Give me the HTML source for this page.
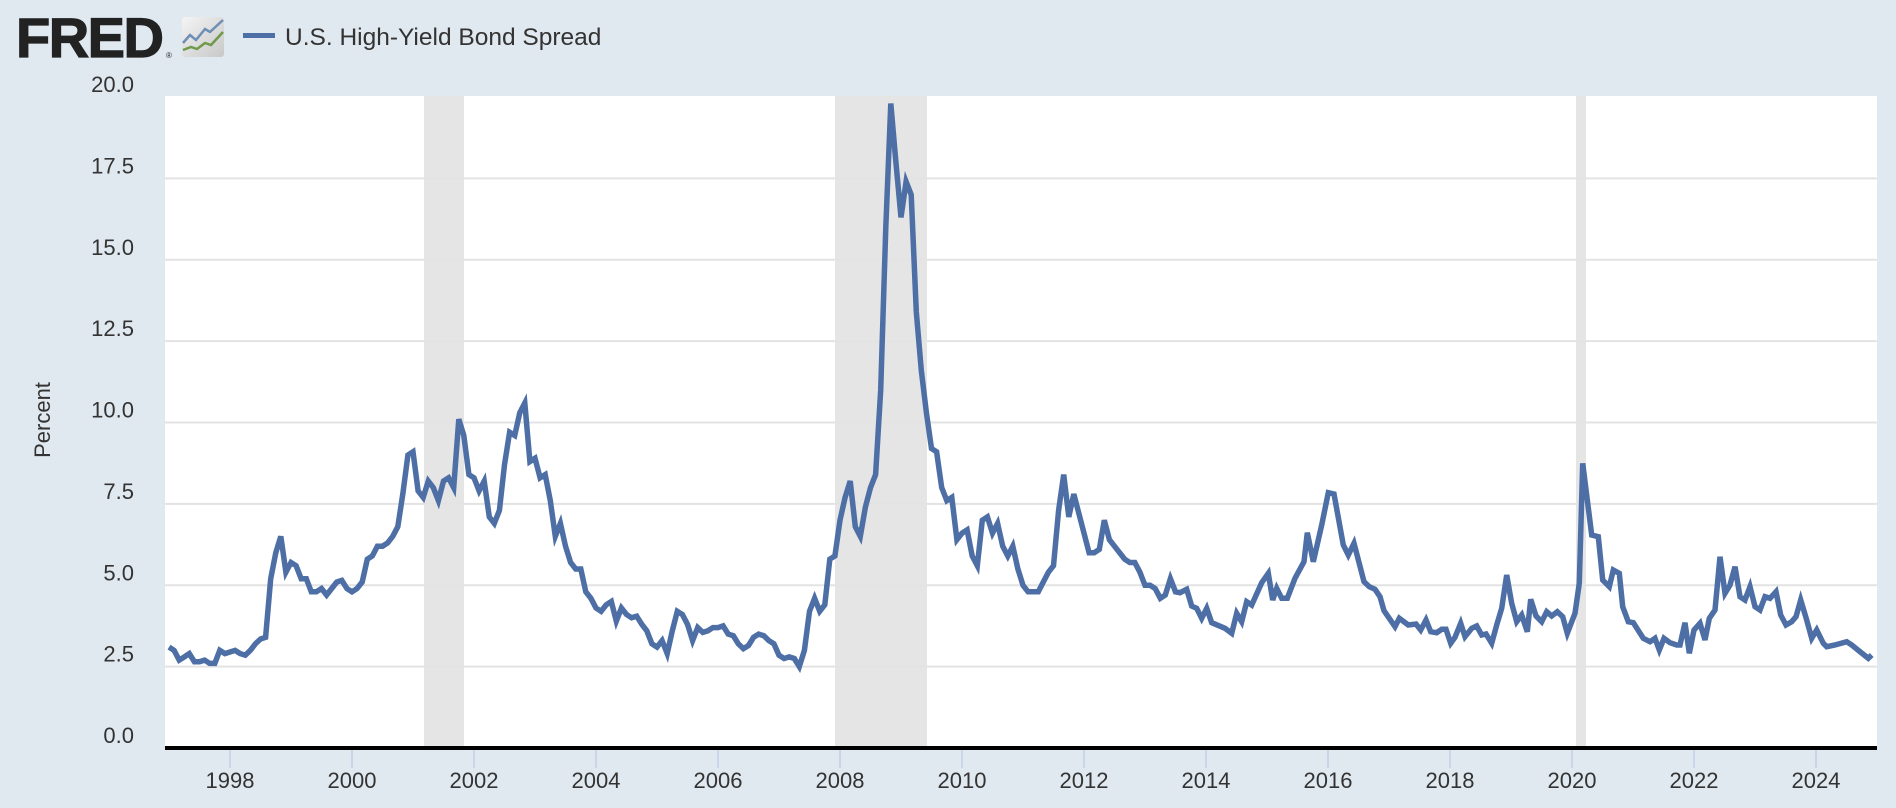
<!DOCTYPE html>
<html><head><meta charset="utf-8"><style>
html,body{margin:0;padding:0;background:#e1e9f0;}
svg{display:block;font-family:"Liberation Sans",sans-serif;}
</style></head><body>
<svg id="s" width="1896" height="808" viewBox="0 0 1896 808" xmlns="http://www.w3.org/2000/svg">
<rect width="1896" height="808" fill="#e1e9f0"/>
<text x="16" y="57" font-size="56" font-weight="bold" fill="#222" letter-spacing="-1.5" stroke="#222" stroke-width="1.2">FRED</text>
<text x="166" y="58" font-size="8" fill="#222">®</text>
<defs><linearGradient id="g" x1="0" y1="0" x2="1" y2="1"><stop offset="0" stop-color="#f4f4f4"/><stop offset="1" stop-color="#c8c8c8"/></linearGradient></defs>
<rect x="182" y="17" width="42" height="40" rx="3" fill="url(#g)"/>
<polyline points="183,43 190,35 196,40 205,29 210,32 223,20" fill="none" stroke="#6d8fb5" stroke-width="2.5"/>
<polyline points="183,50 191,47 197,49 205,43 211,45 223,32" fill="none" stroke="#6f9a4a" stroke-width="2.5"/>
<rect x="243" y="33" width="32" height="5" fill="#4e6fa5"/>
<text x="285" y="45" font-size="24.5" fill="#333">U.S. High-Yield Bond Spread</text>
<rect x="165" y="96" width="1712" height="652" fill="#fff"/>
<rect x="424" y="96" width="40" height="652" fill="#e5e5e5"/>
<rect x="835" y="96" width="92" height="652" fill="#e5e5e5"/>
<rect x="1576" y="96" width="10" height="652" fill="#e5e5e5"/>
<g id="grid" stroke="#e3e3e3" stroke-width="2"></g>
<g id="yl" font-size="22" fill="#333" text-anchor="end"></g>
<text transform="translate(50,420) rotate(-90)" font-size="22" fill="#333" text-anchor="middle">Percent</text>
<g id="xl" font-size="22" fill="#333" text-anchor="middle"></g>
<polyline id="ln" fill="none" stroke="#4e6fa5" stroke-width="5.5" stroke-linejoin="miter" points=""/>
<rect x="165" y="746" width="1712" height="4" fill="#000"/>
</svg>
<script>
var NS="http://www.w3.org/2000/svg";
function Y(v){return 748-v*32.55;}
function X(y){return 230+(y-1998)*61;}
var grid=document.getElementById('grid'),yl=document.getElementById('yl'),xl=document.getElementById('xl');
for(var i=1;i<=8;i++){var v=i*2.5,y=Y(v);
 if(i<8){var l=document.createElementNS(NS,'line');l.setAttribute('x1',165);l.setAttribute('x2',1877);l.setAttribute('y1',y);l.setAttribute('y2',y);grid.appendChild(l);}}
for(var i=0;i<=8;i++){var v=i*2.5;var t=document.createElementNS(NS,'text');t.setAttribute('x',134);t.setAttribute('y',Y(v)-5);t.textContent=v.toFixed(1);yl.appendChild(t);}
for(var yr=1998;yr<=2024;yr+=2){var x=X(yr);var l=document.createElementNS(NS,'line');l.setAttribute('x1',x);l.setAttribute('x2',x);l.setAttribute('y1',750);l.setAttribute('y2',768);l.setAttribute('stroke','#c9d5e8');l.setAttribute('stroke-width','2');xl.appendChild(l);
 var t=document.createElementNS(NS,'text');t.setAttribute('x',x);t.setAttribute('y',788);t.textContent=yr;xl.appendChild(t);}
var m=[
3.1,3.0,2.7,2.8,2.9,2.65,2.65,2.7,2.6,2.6,3.0,2.9,
2.95,3.0,2.9,2.85,3.0,3.2,3.35,3.4,5.2,6.0,6.5,5.4,
5.7,5.6,5.2,5.2,4.8,4.8,4.9,4.7,4.9,5.1,5.15,4.9,
4.8,4.9,5.1,5.8,5.9,6.2,6.2,6.3,6.5,6.8,7.8,9.0,
9.1,7.9,7.7,8.2,8.0,7.6,8.2,8.3,8.0,10.1,9.6,8.4,
8.3,7.9,8.2,7.1,6.9,7.3,8.7,9.7,9.6,10.3,10.6,8.8,
8.9,8.3,8.4,7.6,6.5,6.9,6.2,5.7,5.5,5.5,4.8,4.6,
4.3,4.2,4.4,4.5,3.9,4.3,4.1,4.0,4.05,3.8,3.6,3.2,
3.1,3.3,2.9,3.6,4.2,4.1,3.8,3.3,3.7,3.55,3.6,3.7,
3.7,3.75,3.5,3.45,3.2,3.05,3.15,3.4,3.5,3.45,3.3,3.2,
2.85,2.75,2.8,2.75,2.5,3.0,4.2,4.6,4.2,4.4,5.8,5.9,
7.0,7.7,8.2,6.8,6.5,7.4,8.0,8.4,11.0,16.0,19.8,18.0,
16.3,17.4,17.0,13.4,11.6,10.3,9.2,9.1,8.0,7.6,7.7,6.4,
6.6,6.7,5.9,5.6,7.0,7.1,6.6,6.9,6.2,5.9,6.2,5.5,
5.0,4.8,4.8,4.8,5.1,5.4,5.6,7.3,8.4,7.1,7.8,7.2,
6.6,6.0,6.0,6.1,7.0,6.4,6.2,6.0,5.8,5.7,5.7,5.4,
5.0,5.0,4.9,4.6,4.7,5.2,4.8];
var pts=[];
for(var i=0;i<m.length;i++){pts.push((169+i*61/12).toFixed(1)+','+Y(m[i]).toFixed(1));}
var z9=[[0,578],[20,568],[35,618],[50,625],[65,655],[80,625],[95,668],[135,685],[155,700],[170,640],[185,665],[200,605],[215,615],[245,548],[265,520],[278,600],[290,565],[305,595],[322,595],[345,535],[372,485],[382,398],[400,485],[425,375],[445,278],[462,282],[490,435],[505,465],[522,430],[552,545],[568,560],[585,568],[600,590],[612,632],[645,680],[658,655],[685,675],[708,672],[722,690],[738,660],[752,695],[770,698],[785,688],[798,688],[812,730],[825,712],[842,670],[855,710],[875,685],[890,678],[905,705],[918,702],[935,730],[950,675],[965,625],[980,525],[995,610],[1010,665],[1025,645],[1042,695],[1052,598],[1068,648],[1085,665],[1100,635],[1115,648],[1132,635],[1148,650]];
z9.forEach(function(p){pts.push((1180+p[0]/3).toFixed(1)+','+(400+p[1]/3).toFixed(1));});
var z8=[[22,700],[45,640],[58,550],[68,190],[95,405],[115,410],[128,540],[148,560],[160,510],[178,520],[188,620],[205,665],[220,668],[250,715],[270,725],[285,715],[298,750],[312,715],[330,728],[350,735],[360,735],[375,668],[388,760],[402,690],[420,670],[435,720],[448,655],[465,630],[480,470],[495,580],[510,555],[525,500],[540,590],[555,600],[570,560],[585,620],[600,630],[615,590],[630,595],[648,575],[662,645],[678,675],[695,665],[708,650],[722,600],[740,660],[755,715],[770,690],[790,730],[800,740],[825,735],[860,725],[875,735],[900,755],[925,775],[935,765]];
z8.forEach(function(p){pts.push((1560+p[0]/3).toFixed(1)+','+(400+p[1]/3).toFixed(1));});
document.getElementById('ln').setAttribute('points',pts.join(' '));
</script>
</body></html>
